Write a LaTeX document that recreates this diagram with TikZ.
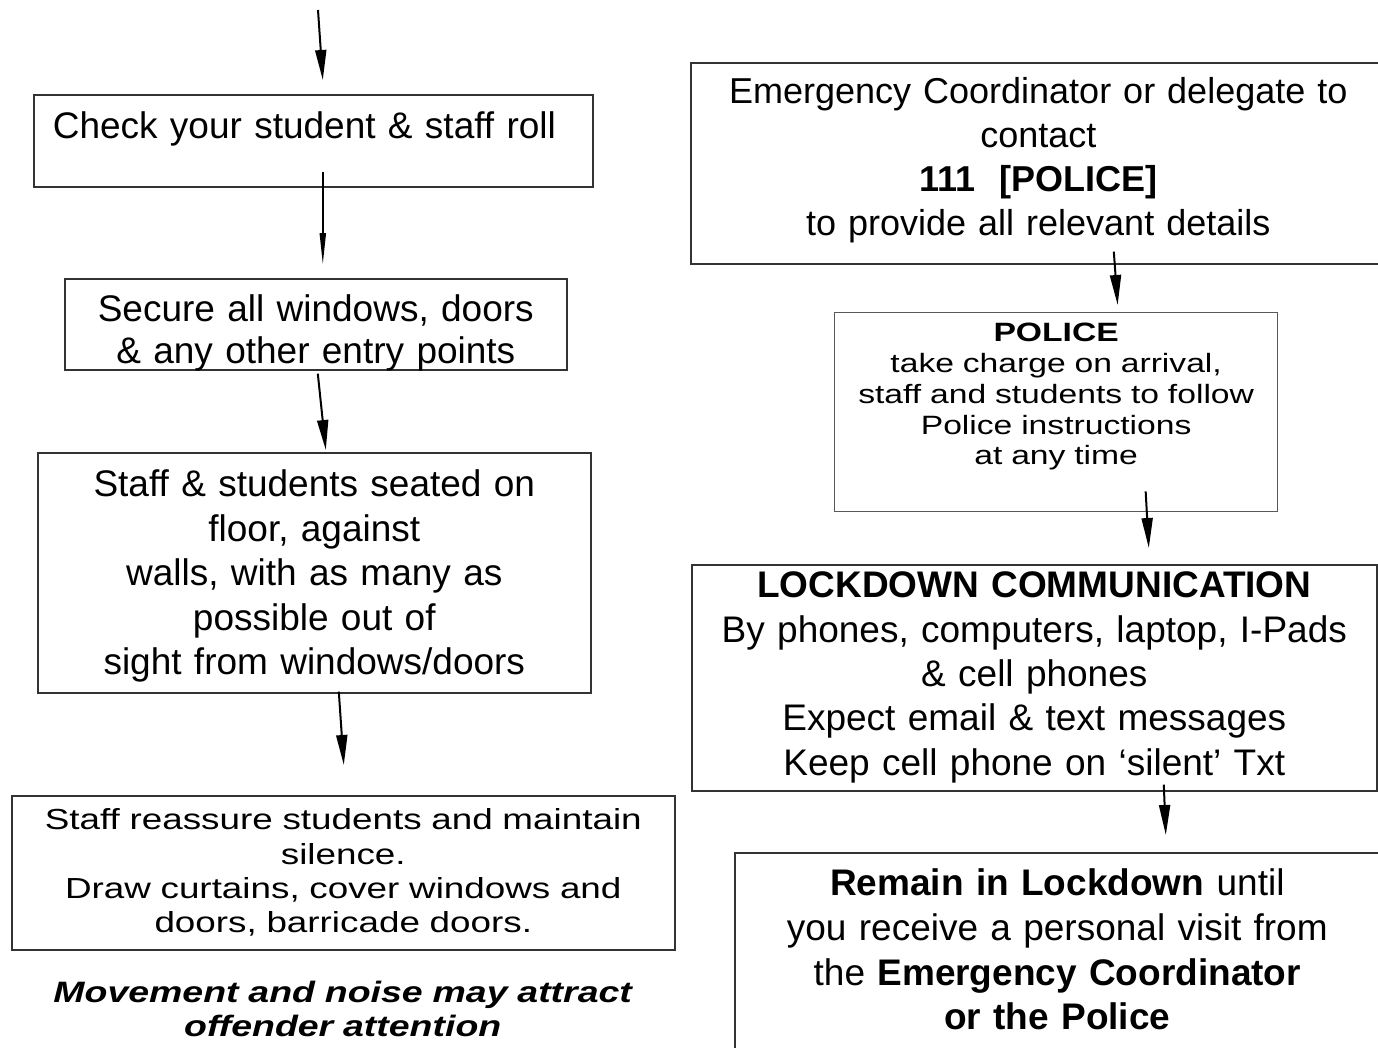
\documentclass[tikz,border=0pt]{standalone}
\usepackage{fontspec}
\setmainfont{Liberation Sans}
\newfontfamily\widefont[FakeStretch=1.27]{Liberation Sans}
\usetikzlibrary{arrows.meta}

\tikzset{
  flowbox/.style={draw=black!80, line width=1.6pt, anchor=north west,
    inner xsep=5pt, inner ysep=0pt, align=center, text=black},
  flowarrow/.style={line width=2pt, -{Triangle[length=30pt,width=11pt]}},
}

\begin{document}
\begin{tikzpicture}[x=1pt, y=-1pt]
\useasboundingbox (0,0) rectangle (1378,1047);
\fill[white] (0,0) rectangle (1378,1047);
\clip (0,0) rectangle (1378,1047);

% left column: what to do in the room
\coordinate (entry) at (318,10);
\node[flowbox, align=left, inner xsep=19pt, text width=521pt,
  text height=44pt, text depth=48pt, font=\fontsize{37}{44}\selectfont]
  (roll) at (33,94) {Check your student \& staff roll};
\node[flowbox, text width=492pt, text height=43pt, text depth=48pt,
  font=\fontsize{37}{42}\selectfont]
  (secure) at (64,278) {Secure all windows, doors\\ \& any other entry points};
\node[flowbox, text width=543pt, text height=44pt, text depth=196pt,
  font=\fontsize{37}{44.5}\selectfont]
  (seated) at (37,452) {Staff \& students seated on\\ floor, against\\
  walls, with as many as\\ possible out of\\ sight from windows/doors};
\node[flowbox, text width=653pt, text height=34pt, text depth=120pt,
  font=\widefont\fontsize{29}{34.3}\selectfont]
  (calm) at (11,795) {Staff reassure students and maintain\\ silence.\\
  Draw curtains, cover windows and\\ doors, barricade doors.};
\node[anchor=north west, inner sep=0pt, align=center, text width=661pt,
  text height=27pt, text depth=40pt,
  font=\widefont\bfseries\itshape\fontsize{29.5}{34}\selectfont]
  (warn) at (12,975) {Movement and noise may attract\\ offender attention};

% right column: police and communication
\node[flowbox, text width=685pt, text height=41pt, text depth=160pt,
  font=\fontsize{36}{44}\selectfont]
  (call) at (690,62) {Emergency Coordinator or delegate to\\ contact\\
  \textbf{111\hspace{24pt}[POLICE]}\\ to provide all relevant details};
\node[flowbox, draw=black!65, line width=1.3pt, text width=433pt,
  text height=29pt, text depth=170pt,
  font=\widefont\fontsize{26.5}{30.8}\selectfont]
  (police) at (834,312) {\textbf{POLICE}\\ take charge on arrival,\\
  staff and students to follow\\ Police instructions\\ at any time};
\node[flowbox, text width=675pt, text height=33pt, text depth=193pt,
  font=\fontsize{37}{44.3}\selectfont]
  (comms) at (691,564) {\textbf{LOCKDOWN COMMUNICATION}\\
  By phones, computers, laptop, I-Pads\\ \& cell phones\\
  Expect email \& text messages\\ Keep cell phone on ‘silent’ Txt};
\node[flowbox, text width=635pt, text height=43pt, text depth=157pt,
  font=\fontsize{37}{44.7}\selectfont]
  (remain) at (734,852) {\textbf{Remain in Lockdown} until\\
  you receive a personal visit from\\ the \textbf{Emergency Coordinator}\\
  \textbf{or the Police}};

% arrows
\draw[flowarrow] (entry) -- ([xshift=9.5pt,yshift=14pt]roll.north);
\draw[flowarrow, -{Triangle[length=32pt,width=6pt]}]
  ([xshift=9.5pt,yshift=16pt]roll.south) -- ([xshift=7pt,yshift=13pt]secure.north);
\draw[flowarrow] ([xshift=2pt,yshift=-3pt]secure.south) -- ([xshift=11.5pt,yshift=2pt]seated.north);
\draw[flowarrow] ([xshift=24.5pt,yshift=2pt]seated.south) -- ([xshift=0.5pt,yshift=30pt]calm.north);
\draw[flowarrow] ([xshift=75.5pt,yshift=13pt]call.south) -- ([xshift=61.5pt,yshift=7pt]police.north);
\draw[flowarrow] ([xshift=89.5pt,yshift=21pt]police.south) -- ([xshift=114.5pt,yshift=16pt]comms.north);
\draw[flowarrow] ([xshift=129.5pt,yshift=7pt]comms.south) -- ([xshift=108.5pt,yshift=17pt]remain.north);
\end{tikzpicture}
\end{document}
